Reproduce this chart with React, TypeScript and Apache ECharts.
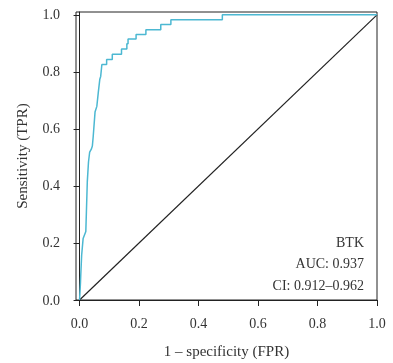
import React, { useEffect, useRef } from "react";
import * as echarts from "echarts";

const rocFpr = [
  0, 0.003, 0.004, 0.007, 0.012, 0.021, 0.023, 0.026, 0.03, 0.034, 0.04, 0.043,
  0.046, 0.052, 0.058, 0.063, 0.068, 0.071, 0.075, 0.079, 0.091, 0.091, 0.11,
  0.11, 0.141, 0.141, 0.159, 0.159, 0.163, 0.163, 0.19, 0.19, 0.223, 0.223,
  0.273, 0.273, 0.307, 0.307, 0.48, 0.48, 1.0,
];
const rocTpr = [
  0, 0.06, 0.087, 0.157, 0.216, 0.24, 0.31, 0.415, 0.484, 0.519, 0.53, 0.54,
  0.575, 0.659, 0.679, 0.728, 0.774, 0.784, 0.826, 0.826, 0.826, 0.843, 0.843,
  0.862, 0.862, 0.88, 0.88, 0.899, 0.899, 0.915, 0.915, 0.931, 0.931, 0.948,
  0.948, 0.966, 0.966, 0.983, 0.983, 1.0, 1.0,
];
const diagonal = [
  [0, 0],
  [1, 1],
];
const tickValues = [0, 0.2, 0.4, 0.6, 0.8, 1.0];
const annotations = ["BTK", "AUC: 0.937", "CI: 0.912\u20130.962"];

const FONT = "'Liberation Serif', 'DejaVu Serif', serif";
const TEXT = "#333";
const LINE = "#222";

export default function App() {
  const ref = useRef<HTMLDivElement>(null);
  useEffect(() => {
    if (!ref.current) return;
    const chart = echarts.init(ref.current, undefined, { renderer: "svg" });
    const roc = rocFpr.map((x, i) => [x, rocTpr[i]]);
    const axisCommon = {
      type: "value" as const,
      splitLine: { show: false },
      axisLine: { show: true, lineStyle: { color: LINE, width: 1 } },
      axisTick: {
        show: true,
        length: 6,
        lineStyle: { color: LINE, width: 1 },
        customValues: tickValues,
      },
      axisLabel: {
        customValues: tickValues,
        formatter: (v: number) => v.toFixed(1),
        color: TEXT,
        fontFamily: FONT,
        fontSize: 14,
        margin: 16,
      },
      nameLocation: "middle" as const,
      nameTextStyle: { color: TEXT, fontFamily: FONT, fontSize: 15 },
    };
    chart.setOption({
      animation: false,
      grid: {
        left: 76,
        top: 12,
        width: 301,
        height: 290,
        show: true,
        borderColor: LINE,
        borderWidth: 1,
        containLabel: false,
      },
      xAxis: {
        ...axisCommon,
        min: -0.012,
        max: 1.0,
        name: "1 \u2013 specificity (FPR)",
        nameGap: 43,
      },
      yAxis: {
        ...axisCommon,
        min: 0,
        max: 1.01,
        name: "Sensitivity (TPR)",
        nameGap: 47,
      },
      series: [
        {
          type: "line",
          data: diagonal,
          showSymbol: false,
          lineStyle: { color: LINE, width: 1.2 },
          silent: true,
        },
        {
          type: "line",
          data: roc,
          showSymbol: false,
          lineStyle: { color: "#4cb8d2", width: 1.5 },
          silent: true,
        },
      ],
      graphic: annotations.map((t, i) => ({
        type: "text",
        x: 364,
        y: 242 + i * 21.5,
        style: {
          text: t,
          fill: TEXT,
          font: `14px ${FONT}`,
          textAlign: "right",
          textVerticalAlign: "middle",
        },
      })),
    });
    return () => chart.dispose();
  }, []);
  return (
    <div
      ref={ref}
      style={{ position: "fixed", left: 0, top: 0, width: 393, height: 363 }}
    />
  );
}
